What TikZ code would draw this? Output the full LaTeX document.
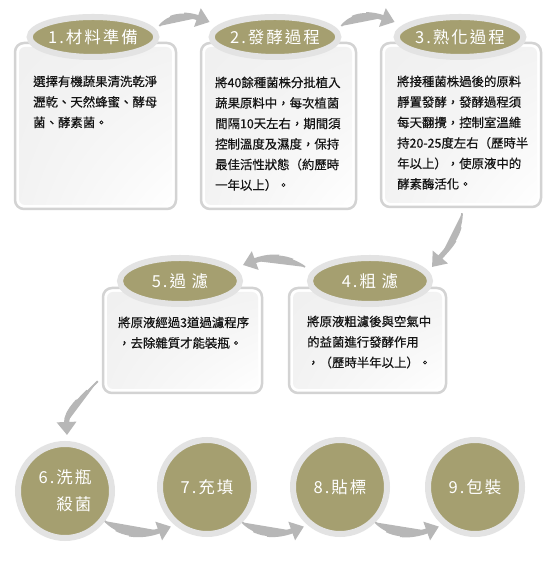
\documentclass[tikz,border=0pt]{standalone}
\usepackage{fontspec}
\newfontfamily\cjk[FakeBold=0.5]{Noto Sans CJK TC}
\newfontfamily\titlef[LetterSpace=12]{Noto Sans CJK TC}
\usetikzlibrary{shapes.geometric,arrows.meta,shadings}
\definecolor{oliveC}{HTML}{A59F70}
\definecolor{ringC}{HTML}{E3E3E3}
\definecolor{boxC}{HTML}{D3D3D3}
\definecolor{arrC}{HTML}{B7B7B7}
\definecolor{txtC}{HTML}{141414}
\tikzset{
  stepbox/.style={draw=boxC, line width=2.5pt, rounded corners=9pt, fill=white, inner sep=0pt,
    path picture={\shade[rounded corners=6pt, upper left=black!6, upper right=black!5,
      lower left=black!5, lower right=white]
      ([shift={(4pt,4pt)}]path picture bounding box.south west) rectangle
      ([shift={(-4pt,-4pt)}]path picture bounding box.north east);}},
  steptext/.style={anchor=north west, inner sep=0pt, align=left, text=txtC,
    font=\cjk\fontsize{12.4}{20.5}\selectfont},
  titleell/.style={ellipse, fill=oliveC, draw=ringC, line width=6pt, inner sep=0pt,
    text=white, font=\titlef\fontsize{16.5}{20}\selectfont},
  stepcirc/.style={circle, fill=oliveC, draw=ringC, line width=6pt, minimum size=94pt,
    inner sep=0pt, text=white, align=right, font=\titlef\fontsize{16.5}{27}\selectfont},
  arrthin/.style={draw=arrC, line width=1.8pt, shorten >=11pt},
  arrmid/.style={draw=arrC, line width=3.6pt, shorten >=11pt, dash pattern=on 0pt off 14pt on 400pt},
  arrhead/.style={draw=arrC, fill=arrC, line width=5.2pt, dash pattern=on 0pt off 28pt on 400pt,
    -{Triangle[length=13pt,width=19pt]}}
}
\newcommand\flowarrow[3]{%
  \draw[arrthin] #1 to[#3] #2;
  \draw[arrmid] #1 to[#3] #2;
  \draw[arrhead] #1 to[#3] #2;
}
\begin{document}
\begin{tikzpicture}[x=1pt,y=1pt]
\useasboundingbox[fill=white] (0,0) rectangle (550,561);
% boxes
\node[stepbox, minimum width=161pt, minimum height=166pt] (b1) at (95.5,435) {};
\node[stepbox, minimum width=155pt, minimum height=166pt] (b2) at (278.5,435) {};
\node[stepbox, minimum width=160pt, minimum height=164pt] (b3) at (461,436) {};
\node[stepbox, minimum width=159pt, minimum height=105pt] (b5) at (182.5,220.5) {};
\node[stepbox, minimum width=157pt, minimum height=105pt] (b4) at (367.5,220.5) {};
% box texts
\node[steptext] (t1) at (33,485.5) {選擇有機蔬果清洗乾淨\\瀝乾、天然蜂蜜、酵母\\菌、酵素菌。};
\node[steptext] (t2) at (215,484.5) {將40餘種菌株分批植入\\蔬果原料中，每次植菌\\間隔10天左右，期間須\\控制溫度及濕度，保持\\最佳活性狀態（約歷時\\一年以上）。};
\node[steptext] (t3) at (397,485.5) {將接種菌株過後的原料\\靜置發酵，發酵過程須\\每天翻攪，控制室溫維\\持20-25度左右（歷時半\\年以上），使原液中的\\酵素酶活化。};
\node[steptext] (t5) at (118,244.5) {將原液經過3道過濾程序\\，去除雜質才能裝瓶。};
\node[steptext] (t4) at (307,245.5) {將原液粗濾後與空氣中\\的益菌進行發酵作用\\，（歷時半年以上）。};
% title ellipses
\node[titleell, minimum width=118pt, minimum height=40pt] (e1) at (93,524) {1.材料準備};
\node[titleell, minimum width=118pt, minimum height=40pt] (e2) at (275,524) {2.發酵過程};
\node[titleell, minimum width=118pt, minimum height=40pt] (e3) at (460,524) {3.熟化過程};
\node[titleell, minimum width=120pt, minimum height=46pt] (e4) at (370,280) {4.粗 濾};
\node[titleell, minimum width=120pt, minimum height=46pt] (e5) at (180,280) {5.過 濾};
% circles
\node[stepcirc] (c6) at (65,70) {6.洗瓶\\殺菌};
\node[stepcirc] (c7) at (207,74) {7.充填};
\node[stepcirc] (c8) at (340,74) {8.貼標};
\node[stepcirc] (c9) at (475,74) {9.包裝};
% arrows
\flowarrow{([shift={(0,11)}]e1.east)}{([shift={(1,15)}]e2.west)}{out=50,in=160}
\flowarrow{([shift={(0,11)}]e2.east)}{([shift={(1,15)}]e3.west)}{out=50,in=160}
\flowarrow{([shift={(1,-5)}]b3.south)}{([shift={(-1,14)}]e4.east)}{out=-92,in=50}
\flowarrow{([shift={(-2,14)}]e4.west)}{([shift={(0,16)}]e5.east)}{out=145,in=20}
\flowarrow{([shift={(-4,13)}]b5.south west)}{([shift={(2,6)}]c6.north)}{out=225,in=92}
\flowarrow{(c6.-37)}{([shift={(-2,-3)}]c7.-133)}{out=-45,in=200}
\flowarrow{(c7.-45)}{([shift={(-2,-3)}]c8.-133)}{out=-45,in=200}
\flowarrow{(c8.-45)}{([shift={(-2,-3)}]c9.-133)}{out=-45,in=200}
\end{tikzpicture}
\end{document}
